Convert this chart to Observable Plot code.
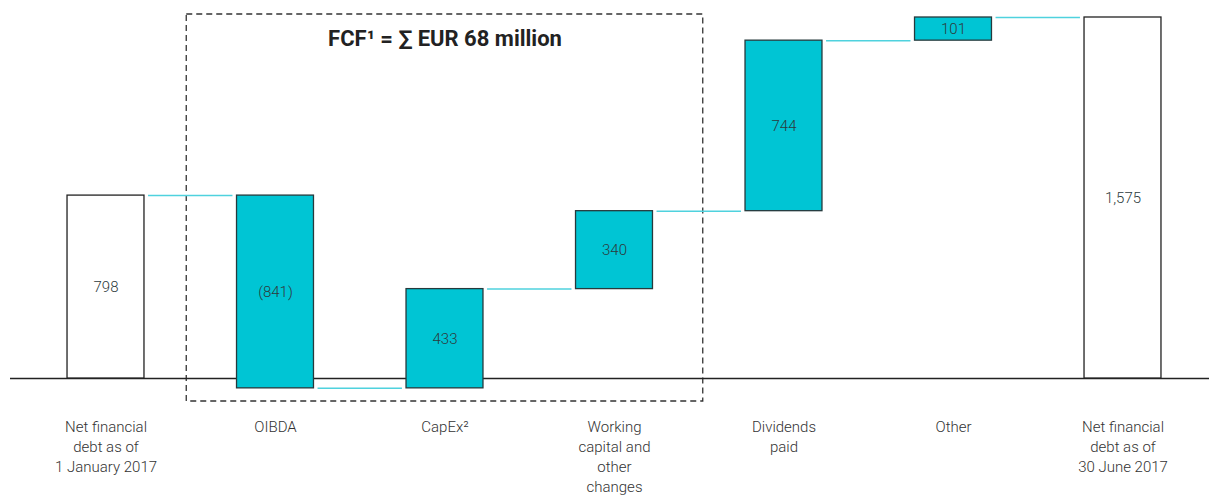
<!DOCTYPE html>
<html>
<head>
<meta charset="utf-8">
<script src="https://cdn.jsdelivr.net/npm/d3@7"></script>
<script src="https://cdn.jsdelivr.net/npm/@observablehq/plot@0.6"></script>
<style>
  html, body { margin: 0; padding: 0; background: #fff; }
  #chart svg { display: block; }
</style>
</head>
<body>
<div id="chart"></div>
<script>
const categories = [
  "Net financial\ndebt as of\n1 January 2017",
  "OIBDA",
  "CapEx²",
  "Working\ncapital and\nother\nchanges",
  "Dividends\npaid",
  "Other",
  "Net financial\ndebt as of\n30 June 2017"
];
const changes = [798, -841, 433, 340, 744, 101, 1575];
const kinds = ["total", "delta", "delta", "delta", "delta", "delta", "total"];
const valueLabels = ["798", "(841)", "433", "340", "744", "101", "1,575"];
const titleText = "FCF¹ = ∑ EUR 68 million";
const fcfGroup = [1, 3]; // first and last index inside the FCF box

// build waterfall table
let running = 0;
const bars = changes.map((v, i) => {
  let start, end;
  if (kinds[i] === "total") { start = 0; end = v; running = v; }
  else { start = running; end = running + v; running = end; }
  return { i, start, end, kind: kinds[i], label: valueLabels[i] };
});
const hw = 0.227, gap = 0.024;
const connectors = bars.slice(0, -1).map((b, i) => ({
  x1: i + hw + gap, x2: i + 1 - hw - gap, y: b.end
}));

const W = 1209, H = 498;
const chart = Plot.plot({
  width: W, height: H,
  marginLeft: 10, marginRight: 0, marginTop: 0, marginBottom: 120,
  style: { fontFamily: "Roboto, sans-serif", color: "#333", background: "#fff" },
  x: { type: "linear", domain: [-0.5, 6.5], range: [20.75, 1207.25] },
  y: { domain: [0, 1575], range: [378, 17], axis: null },
  marks: [
    Plot.rect([{ x1: fcfGroup[0] - 0.5, x2: fcfGroup[1] + 0.5 }], {
      x1: "x1", x2: "x2", y1: () => 0, y2: () => 1575,
      insetLeft: -4, insetRight: -4, insetTop: -3, insetBottom: -23,
      fill: "none", stroke: "#333", strokeWidth: 1.3, strokeDasharray: "6,4"
    }),
    Plot.ruleY([0], { stroke: "#222", strokeWidth: 1.3 }),
    Plot.ruleY(connectors, {
      x1: "x1", x2: "x2", y: "y", stroke: "#4fd2de", strokeWidth: 1.5
    }),
    Plot.rect(bars, {
      x1: d => d.i - hw, x2: d => d.i + hw, y1: "start", y2: "end",
      fill: d => d.kind === "total" ? "#fff" : "#00c5d4",
      stroke: d => d.kind === "total" ? "#222" : "#263a3d",
      strokeWidth: 1.3
    }),
    Plot.text(bars, {
      x: "i", y: d => (d.start + d.end) / 2, text: "label",
      fontSize: 15, fontWeight: 300, fill: "#2c3a3c"
    }),
    Plot.axisX({
      ticks: d3.range(categories.length),
      tickFormat: i => categories[i],
      tickSize: 0, tickPadding: 39, fontSize: 15, fontWeight: 300, lineHeight: 1.33,
      fill: "#333", label: null
    }),
    Plot.text([titleText], {
      x: () => 2, frameAnchor: "top", dy: 38, lineAnchor: "middle",
      text: d => d, fontSize: 22, fontWeight: "bold", fill: "#222"
    })
  ]
});
document.getElementById("chart").appendChild(chart);
</script>
</body>
</html>
